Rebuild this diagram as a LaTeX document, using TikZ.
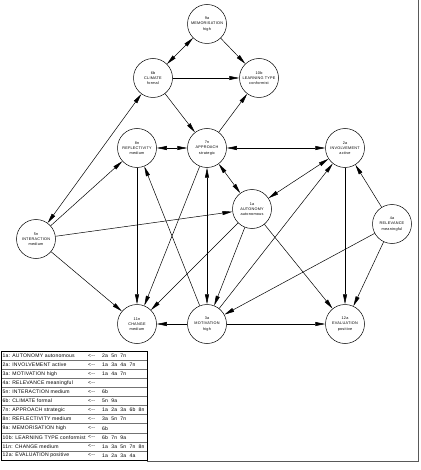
\documentclass[tikz,border=0pt]{standalone}
\usepackage{fontspec}
\setmainfont{Liberation Sans}
\newfontfamily\circfont[LetterSpace=6]{Liberation Sans}
\newfontfamily\tabfont[LetterSpace=4]{Liberation Sans}
\usetikzlibrary{arrows.meta}
\begin{document}
\begin{tikzpicture}[x=1pt,y=-1pt,
  concept/.style={draw,circle,minimum size=39pt,inner sep=0pt,line width=0.5pt,align=center,
    font=\circfont\fontsize{3.8}{5.1}\selectfont},
  link/.style={line width=0.5pt,-{Triangle[length=10pt,width=4pt]}},
  bilink/.style={line width=0.5pt,{Triangle[length=10pt,width=4pt]}-{Triangle[length=10pt,width=4pt]}},
  cell/.style={inner sep=0pt,anchor=west,font=\tabfont\fontsize{5.1}{6}\selectfont},
  rule/.style={line width=0.4pt,black!55}]
\useasboundingbox (0,0) rectangle (420,470);

% concepts
\node[concept] (n9a)  at (207,24)  {9a\\MEMORISATION\\high};
\node[concept] (n6b)  at (153,78)  {6b\\CLIMATE\\formal};
\node[concept] (n10b) at (259,78)  {10b\\LEARNING TYPE\\conformist};
\node[concept] (n8n)  at (137,148) {8n\\REFLECTIVITY\\medium};
\node[concept] (n7n)  at (207,148) {7n\\APPROACH\\strategic};
\node[concept] (n2a)  at (345,148) {2a\\INVOLVEMENT\\active};
\node[concept] (n1a)  at (252,209) {1a\\AUTONOMY\\autonomous};
\node[concept] (n5n)  at (36,239)  {5n\\INTERACTION\\medium};
\node[concept] (n4a)  at (392,224) {4a\\RELEVANCE\\meaningful};
\node[concept] (n11n) at (137,324) {11n\\CHANGE\\medium};
\node[concept] (n3a)  at (207,324) {3a\\MOTIVATION\\high};
\node[concept] (n12a) at (345,324) {12a\\EVALUATION\\positive};

% links
\draw[bilink] (n9a) -- (n6b);
\draw[link] (n9a) -- (n10b);
\draw[link] (n6b) -- (n10b);
\draw[bilink] (n6b) -- (n5n);
\draw[link] (n6b) -- (n7n);
\draw[link] (n7n) -- (n10b);
\draw[bilink] (n8n) -- (n7n);
\draw[bilink] (n7n) -- (n2a);
\draw[bilink] (n7n) -- (n1a);
\draw[bilink] (n3a) -- (n7n);
\draw[link] (n7n) -- (n11n);
\draw[link] (n5n) -- (n8n);
\draw[link] (n5n) -- (n1a);
\draw[link] (n5n) -- (n11n);
\draw[link] (n8n) -- (n11n);
\draw[link] (n3a) -- (n8n);
\draw[bilink] (n1a) -- (n2a);
\draw[link] (n3a) -- (n2a);
\draw[link] (n4a) -- (n2a);
\draw[link] (n2a) -- (n12a);
\draw[link] (n1a) -- (n11n);
\draw[link] (n1a) -- (n3a);
\draw[link] (n1a) -- (n12a);
\draw[link] (n4a) -- (n3a);
\draw[link] (n4a) -- (n12a);
\draw[link] (n3a) -- (n11n);
\draw[link] (n3a) -- (n12a);

% table
\foreach \i in {1,...,11} {\draw[rule] (1,351+9.08*\i) -- (147,351+9.08*\i);}
\draw[line width=0.6pt] (1,351) rectangle (147,460);
\foreach \lab/\parents [count=\i] in {
  {1a: AUTONOMY autonomous}/{2a\ \ 5n\ \ 7n},
  {2a: INVOLVEMENT active}/{1a\ \ 3a\ \ 4a\ \ 7n},
  {3a: MOTIVATION high}/{1a\ \ 4a\ \ 7n},
  {4a: RELEVANCE meaningful}/{},
  {5n: INTERACTION medium}/{6b},
  {6b: CLIMATE formal}/{5n\ \ 9a},
  {7n: APPROACH strategic}/{1a\ \ 2a\ \ 3a\ \ 6b\ \ 8n},
  {8n: REFLECTIVITY medium}/{3a\ \ 5n\ \ 7n},
  {9a: MEMORISATION high}/{6b},
  {10b: LEARNING TYPE conformist}/{6b\ \ 7n\ \ 9a},
  {11n: CHANGE medium}/{1a\ \ 3a\ \ 5n\ \ 7n\ \ 8n},
  {12a: EVALUATION positive}/{1a\ \ 2a\ \ 3a\ \ 4a}} {
  \node[cell] (lab\i) at (2.5,346.5+9.08*\i) {\lab};
  \node[cell] (arr\i) at (88,346.5+9.08*\i) {<-{}-};
  \node[cell] (par\i) at (102,346.5+9.08*\i) {\parents};
}

% frame
\draw[line width=0.6pt,black!65] (147,461) -- (418,461) -- (418,0);
\end{tikzpicture}
\end{document}
